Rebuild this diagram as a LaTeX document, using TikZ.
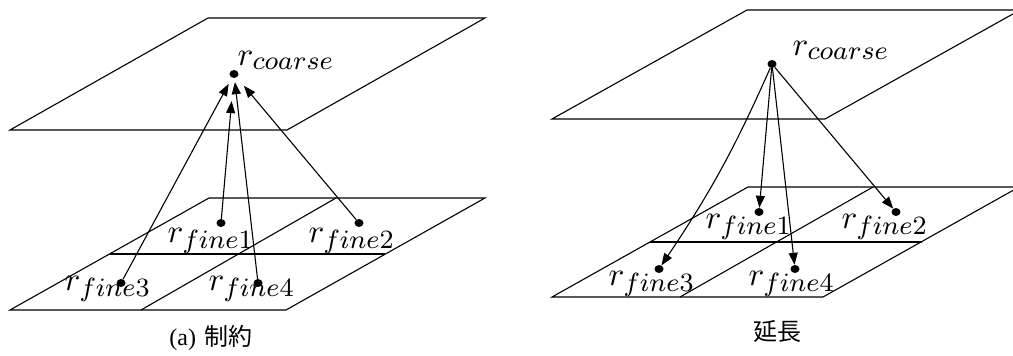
\documentclass[tikz,border=0pt]{standalone}
\usepackage{fontspec}
\setmainfont{Liberation Serif}
\newfontfamily\cjk{Noto Sans CJK JP}
\DeclareMathSizes{10}{10}{8}{6}
\usetikzlibrary{arrows.meta,shapes.geometric}
\begin{document}
\begin{tikzpicture}[x=1pt,y=-1pt,
  plane/.style={draw=black,line width=1.1pt,line join=miter},
  dot/.style={ellipse,fill=black,inner sep=0pt,minimum width=9pt,minimum height=8pt},
  lbl/.style={anchor=base west,inner sep=0pt,scale=3.3},
  arr/.style={draw=black,line width=1.1pt,-{Triangle[length=12pt,width=9pt]}},
  captext/.style={font=\fontsize{24}{28}\selectfont}]
\useasboundingbox (0,0) rectangle (1013,356);
\clip (0,0) rectangle (1013,356);
% ---------- left panel ----------
\draw[plane] (208,18) -- (485,18) -- (287,130) -- (10,130) -- cycle;
\draw[plane] (209,198) -- (485,198) -- (286,310) -- (10,310) -- cycle;
\draw[plane] (110,254) -- (385,254);
\draw[plane] (336,198) -- (141,310);
\node[dot] (Lc) at (234,74) {};
\node[dot] (Lf1) at (221,223) {};
\node[dot] (Lf2) at (359,223) {};
\node[dot] (Lf3) at (121,283) {};
\node[dot] (Lf4) at (258,283) {};
\node[lbl] (Lcl) at (237,65) {$r_{coarse}$};
\node[lbl] (Lf1l) at (167,242) {$r_{fine1}$};
\node[lbl] (Lf2l) at (308,242) {$r_{fine2}$};
\node[lbl] (Lf3l) at (64,290) {$r_{fine3}$};
\node[lbl] (Lf4l) at (208,290) {$r_{fine4}$};
\draw[arr,shorten >=7pt] (Lf3) -- (Lc);
\draw[arr,shorten >=23pt] (Lf1) -- (Lc);
\draw[arr,shorten >=4pt] (Lf4) -- (Lc);
\draw[arr,shorten >=11pt] (Lf2) -- (Lc);
\node[captext] (Lcap) at (211,338) {(a)\hspace{0.35em}\cjk 制約};
% ---------- right panel ----------
\draw[plane] (747,10) -- (1020,10) -- (825,119) -- (552,119) -- cycle;
\draw[plane] (748,187) -- (1019,187) -- (823,297) -- (552,297) -- cycle;
\draw[plane] (650,242) -- (922,242);
\draw[plane] (873,187) -- (680,297);
\node[dot] (Rc) at (772,64) {};
\node[dot] (Rf1) at (759,212) {};
\node[dot] (Rf2) at (896,212) {};
\node[dot] (Rf3) at (659,269) {};
\node[dot] (Rf4) at (795,269) {};
\node[lbl] (Rcl) at (792,55) {$r_{coarse}$};
\node[lbl] (Rf1l) at (705,228) {$r_{fine1}$};
\node[lbl] (Rf2l) at (841,228) {$r_{fine2}$};
\node[lbl] (Rf3l) at (608,285) {$r_{fine3}$};
\node[lbl] (Rf4l) at (748,285) {$r_{fine4}$};
\draw[arr] (Rc) -- (Rf1);
\draw[arr] (Rc) -- (Rf2);
\draw[arr] (Rc) to[bend left=5] (Rf3);
\draw[arr] (Rc) -- (Rf4);
\node[captext] (Rcap) at (777,331) {\cjk 延長};
\end{tikzpicture}
\end{document}
